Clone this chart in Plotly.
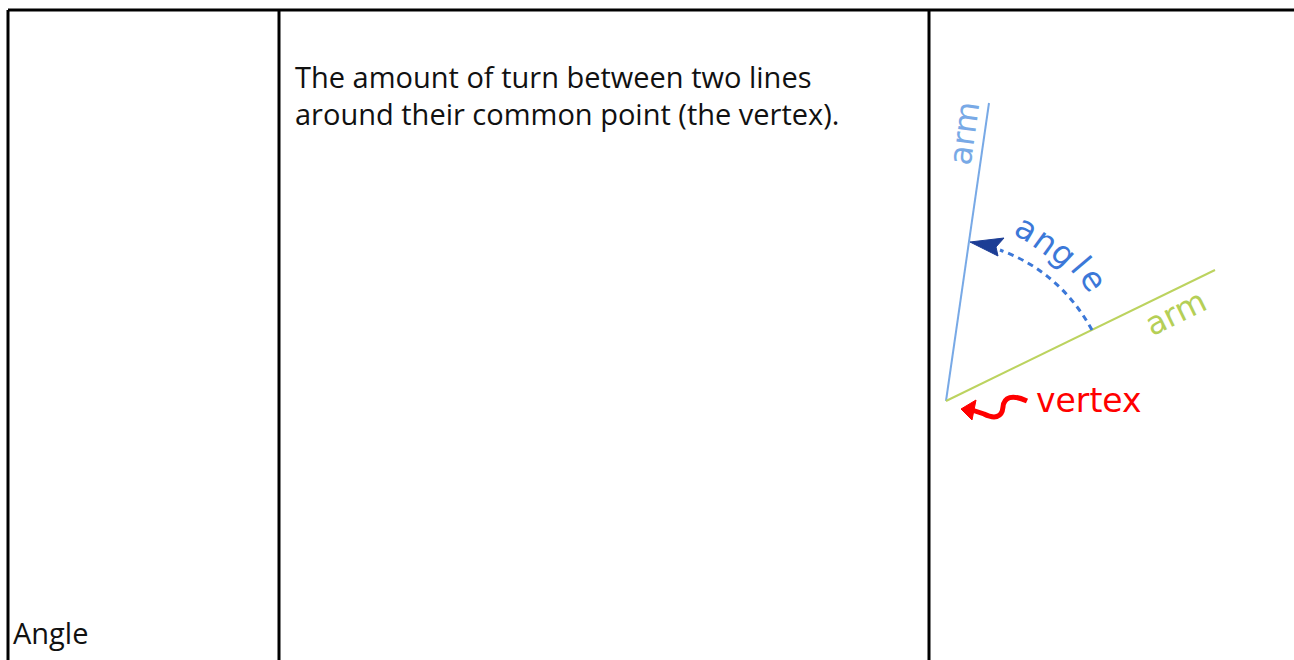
import plotly.graph_objects as go

# page / table layout (pixel space, y grows downward)
W, H = 1294, 660
col_edges = [8, 279, 929]
top_edge = 10

term = "Angle"
definition = ["The amount of turn between two lines",
              "around their common point (the vertex)."]

# diagram geometry
vertex = (946, 401)
arm1_end = (989, 103)      # blue arm
arm2_end = (1215, 270)     # green arm
angle_letters = ["a", "n", "g", "l", "e"]
angle_letter_x = [1027, 1046, 1064, 1081, 1094]
angle_letter_y = [228, 241, 253, 264, 279]
angle_letter_rot = [30, 36, 43, 50, 57]

fig = go.Figure()

# the two arms
fig.add_trace(go.Scatter(x=[vertex[0], arm1_end[0]], y=[vertex[1], arm1_end[1]],
                         mode="lines", line=dict(color="#78a9e6", width=2),
                         hoverinfo="skip", showlegend=False))
fig.add_trace(go.Scatter(x=[vertex[0], arm2_end[0]], y=[vertex[1], arm2_end[1]],
                         mode="lines", line=dict(color="#bcd35f", width=2),
                         hoverinfo="skip", showlegend=False))

shapes = []
# table borders
shapes.append(dict(type="line", x0=col_edges[0], x1=W + 5, y0=top_edge, y1=top_edge,
                   line=dict(color="#000", width=3)))
for x in col_edges:
    shapes.append(dict(type="line", x0=x, x1=x, y0=top_edge, y1=H + 5,
                       line=dict(color="#000", width=3)))

# dashed angle arc + arrowhead
shapes.append(dict(type="path", path="M 1092,330 Q 1060,272 1000,250",
                   line=dict(color="#3c78d8", width=3, dash="6px,5px")))
shapes.append(dict(type="path", path="M 970,242 L 1004,238 L 996,247 L 998,256 Z",
                   fillcolor="#1c3d95", line=dict(color="#1c3d95", width=1)))
# red squiggle pointing at the vertex
shapes.append(dict(type="path",
                   path="M 1027,401 C 1012,394 1004,397 1003,407 C 1002,418 994,419 984,414 L 972,410",
                   line=dict(color="#ff0000", width=5)))
shapes.append(dict(type="path", path="M 961,409 L 976,400 L 972,420 Z",
                   fillcolor="#ff0000", line=dict(color="#ff0000", width=1)))

annotations = []
table_font = dict(family="Open Sans", size=29, color="#111")
annotations.append(dict(x=293, y=76, text=definition[0], xanchor="left", yanchor="middle",
                        showarrow=False, font=table_font))
annotations.append(dict(x=293, y=113, text=definition[1], xanchor="left", yanchor="middle",
                        showarrow=False, font=table_font))
annotations.append(dict(x=11, y=632, text=term, xanchor="left", yanchor="middle",
                        showarrow=False, font=table_font))

diag_font = "DejaVu Sans"
annotations.append(dict(x=964, y=134, text="arm", textangle=-82, showarrow=False,
                        font=dict(family=diag_font, size=32, color="#78a9e6")))
annotations.append(dict(x=1175, y=313, text="arm", textangle=-26, showarrow=False,
                        font=dict(family=diag_font, size=32, color="#b5cf56")))
annotations.append(dict(x=1089, y=400, text="vertex", showarrow=False,
                        font=dict(family=diag_font, size=33, color="#ff0000")))
for ch, x, y, r in zip(angle_letters, angle_letter_x, angle_letter_y, angle_letter_rot):
    annotations.append(dict(x=x, y=y, text=ch, textangle=r, showarrow=False,
                            font=dict(family=diag_font, size=33, color="#3c78d8")))

fig.update_layout(
    width=W, height=H,
    margin=dict(l=0, r=0, t=0, b=0),
    paper_bgcolor="white", plot_bgcolor="white",
    xaxis=dict(range=[0, W], visible=False, fixedrange=True),
    yaxis=dict(range=[H, 0], visible=False, fixedrange=True),
    shapes=shapes, annotations=annotations,
)
fig.write_html("out.html", config={"displayModeBar": False},
               post_script="document.body.style.margin='0';")
